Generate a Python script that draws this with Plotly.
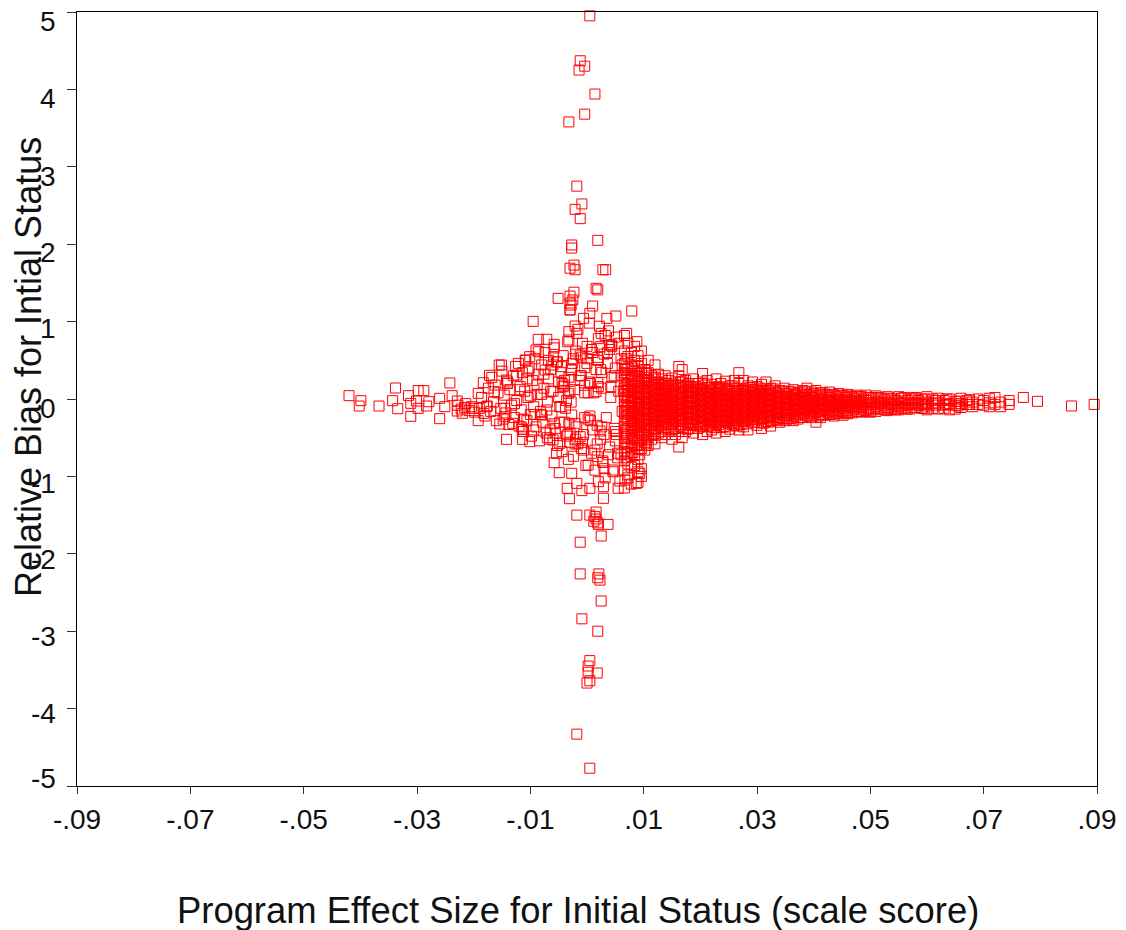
import plotly.graph_objects as go

# Isolated points along the vertical spike at x near 0
spike_x = [.0005,-.0012,-.0004,-.0014,.0014,-.0004,-.0032,-.0018,-.0009,-.0021,-.0012,.0019,-.0027,-.0027,-.0023,-.0030,-.0021,.0028,.0033,.0016,.0019,-.0023,-.0030,-.0051,-.0025,-.0030,-.0030,
           .0005,-.0018,.0005,-.0000,.0018,.0002,.0005,.0002,.0019,-.0009,.0025,.0023,.0019,.0021,-.0012,-.0012,.0037,.0025,.0016,.0019,.0016,.0005,.0014,-.0018,.0020,.0012]
spike_y = [4.95,4.37,4.30,4.25,3.94,3.68,3.58,2.75,2.52,2.45,2.33,2.05,1.99,1.95,1.73,1.69,1.67,1.67,1.67,1.43,1.41,1.38,1.33,1.30,1.28,1.24,1.15,
           -4.77,-4.33,-3.64,-3.67,-3.54,-3.53,-3.38,-3.45,-3.00,-2.84,-2.61,-2.34,-2.31,-2.26,-2.26,-1.85,-1.62,-1.77,-1.55,-1.60,-1.46,-1.50,-1.52,-1.50,-1.62,-1.58]

# Scattered points left of and around the central cross
left_x = [-.0420,-.0399,-.0402,-.0367,-.0343,-.0338,-.0334,-.0315,-.0311,-.0311,-.0298,-.0288,-.0298,-.0301,-.0283,-.0279,-.0260,-.0251,-.0260,-.0242,-.0238,-.0229,-.0229,-.0220,-.0216,-.0201,-.0192,-.0192,-.0183,-.0182,-.0172,-.0177,-.0164,-.0154,-.0155,-.0151,-.0142,-.0145,-.0145,-.0142,-.0131,-.0114,-.0114,-.0101,
          -.0095,-.0086,-.0071,-.0090,-.0086,-.0124,-.0121,-.0109,-.0101,-.0058,-.0059,-.0074,-.0045,-.0027,-.0004,-.0012,-.0032,-.0032,-.0021,-.0018,-.0006,.0005,.0010,-.0028,-.0030,.0035,.0051,.0079,.0025,.0023,.0043,.0070,.0088,.0019,.0026,-.0004,.0019,.0016,.0005,.0010,.0023,-.0012,-.0021,-.0027,-.0042,-.0033,-.0048,-.0071,-.0080,-.0065,-.0060,-.0048,-.0021,-.0054,-.0058,-.0049,-.0027,-.0035,-.0018,-.0009,-.0031,.0029,.0005,.0020,.0029,.0055,.0087,.0093,.0002,-.0033,.0018,.0046,.0067,
          -.0228,-.0222,-.0214,-.0208,-.0204,-.0198,-.0190,-.0186,-.0180,-.0176,-.0174,-.0170,-.0168,-.0165,-.0162,-.0160,-.0157,-.0152,-.0150,-.0148,-.0146,-.0143,-.0140,-.0138,-.0136,-.0133,-.0130,-.0128,-.0126,-.0124,-.0120,-.0118,-.0116,-.0114,-.0112,-.0110,-.0108,-.0106,-.0104,-.0102,-.0100,-.0098,-.0096,-.0094,-.0092,-.0090,-.0088,-.0086,-.0084,-.0082,-.0080,-.0078,-.0076,-.0074,-.0072,-.0070,-.0068,-.0066,-.0064,-.0062,-.0060,-.0058,-.0056,-.0054,-.0052,-.0050,-.0048,-.0046,-.0044,-.0042,-.0040,-.0038,-.0036,-.0034,-.0032,-.0030,-.0028,-.0026,-.0024,-.0022,-.0020,-.0018,-.0016,-.0014,-.0012,-.0010,-.0008,-.0006,-.0004,-.0002,.0000,.0002,.0004,.0006,.0008,.0010,.0012,.0014,.0016,.0018,.0020,.0022,.0024,.0026,.0028,.0030,.0032,.0034,.0036,.0038,.0040,.0042,.0044,.0046,.0048,.0050,.0052,.0054,.0056,.0058,.0060,.0062,
          -.0118,-.0112,-.0106,-.0100,-.0094,-.0088,-.0082,-.0076,-.0070,-.0064,-.0058,-.0052,-.0046,-.0040,-.0034,-.0028,-.0022,-.0016,-.0010,-.0004,.0002,.0008,.0014,.0020,.0026,.0032,.0038,.0044,.0050,.0056,.0062,
          -.0140,-.0128,-.0116,-.0104,-.0092,-.0080,-.0068,-.0056,-.0044,-.0032,-.0020,-.0008,.0004,.0016,.0028,.0040,.0052,.0064,
          -.0036,-.0030,-.0024,-.0018,-.0012,-.0006,.0000,.0006,.0012,.0018,.0024,.0030,.0036,.0042,.0048,.0054,.0060,
          -.0060,-.0050,-.0040,-.0030,-.0020,-.0010,.0000,.0010,.0020,.0030,.0040,.0050,.0060]
left_y = [.043,-.022,-.091,-.091,-.022,.142,-.125,.043,-.056,-.224,.108,.108,-.121,-.026,-.091,-.035,.009,-.099,-.254,.207,.043,-.026,-.155,-.185,-.108,-.121,-.280,.073,.211,-.185,.306,-.099,.095,-.323,.439,.439,.245,-.228,-.121,-.521,-.314,-.392,-.521,-.551,
          1.003,.771,.771,.633,.611,.310,.461,.504,.547,.706,.547,.375,.418,.375,.405,.568,.762,.870,.943,.848,1.042,1.107,1.201,1.214,1.150,1.042,1.072,1.137,.848,.676,.698,.848,.741,.538,.344,.177,.211,.095,-.220,-.400,-.413,-.487,-.314,-.207,.159,.073,-.099,-.142,-.207,-.400,-.530,-.573,-.581,-.702,-.823,-.952,-.960,-1.154,-1.090,-1.184,-1.288,-1.283,-1.154,-1.068,-1.133,-1.154,-1.090,-.960,-.853,-.780,-.745,-.917,-1.047,
          -.08,-.13,-.06,-.15,-.10,-.17,-.12,.02,-.22,-.09,.14,-.16,.28,-.04,.18,-.28,.08,-.12,.36,-.26,.05,-.18,.22,-.33,.12,-.08,.30,-.24,.42,-.02,-.35,.16,-.14,.34,-.42,.10,.50,-.28,.02,.40,-.20,-.48,.24,-.10,.52,-.36,.06,.32,-.54,-.16,.44,-.30,.14,.60,-.44,-.04,.26,-.52,.38,-.22,.10,.66,-.38,.48,-.60,.02,-.30,.34,-.68,.56,.18,-.12,-.48,.74,.28,-.56,-.04,.46,-.74,.12,.62,-.36,.90,-.18,.30,-.64,.72,-.46,.08,-.86,.52,-.26,.98,.20,-.70,.60,-.06,-.92,.38,-.34,.78,.94,-.52,.14,-.82,.58,-1.02,-.24,.46,.88,-.62,.02,.68,-.94,.30,-.42,.80,-.76,.10,-1.06,.52,-.16,
          .12,-.26,.26,.04,-.40,.18,-.20,.32,-.50,.10,-.32,.48,-.10,.24,-.46,.38,-.02,-.58,.54,-.24,.08,.64,-.66,.16,-.36,.82,-.72,.28,-.54,.72,.44,
          .20,-.06,-.36,.36,-.20,.06,.50,-.44,.20,-.32,.58,-.56,.22,-.14,-.80,.70,-.46,.10,
          -.02,-.44,.52,-.12,.24,-.66,.46,-.28,.08,-.58,.38,-.90,.60,.16,-.38,-.70,.30,
          .44,.22,-.30,.10,-.52,.30,.68,-.08,.50,-.46,.64,.40,-.72]

# Dense horizontal band: column x value and the y values read in that column
band_x = [.0066,.0072,.0078,.0084,.0090,.0096,.0102,.0108,.0114,.0120,.0126,.0132,.0138,.0144,.0150,.0156,.0162,.0168,.0174,.0180,
          .0188,.0196,.0204,.0212,.0220,.0228,.0236,.0244,.0252,.0260,.0268,.0276,.0284,.0292,.0300,.0308,.0316,.0324,.0332,.0340,
          .0348,.0356,.0364,.0372,.0380,.0388,.0396,.0404,.0412,.0420,.0428,.0436,.0444,.0452,.0460,.0468,.0476,.0484,.0492,.0500,
          .0510,.0520,.0530,.0540,.0550,.0560,.0570,.0580,.0590,.0600,.0610,.0620,.0630,.0640,.0650,.0660,.0670,.0680,.0690,.0700,.0710,.0720,.0730,.0745,.0770,.0795,.0855,.0895]
band_y = [
 [.82,.62,.46,.34,.24,.14,.06,-.02,-.10,-.18,-.27,-.36,-.46,-.56,-.68,-.80,-.92,-1.15],
 [.72,.55,.40,.30,.20,.12,.04,-.04,-.12,-.20,-.28,-.38,-.48,-.58,-.70,-.84,-.98,-1.02],
 [.60,.44,.33,.24,.16,.09,.02,-.05,-.12,-.19,-.26,-.34,-.42,-.52,-.62,-.74,-.88,-1.10],
 [.68,.50,.36,.26,.17,.10,.03,-.04,-.11,-.18,-.25,-.33,-.41,-.50,-.60,-.72,-.86],
 [.56,.42,.30,.22,.14,.07,.00,-.07,-.14,-.21,-.28,-.36,-.44,-.54,-.64,-.78,-.94,-1.08],
 [.62,.46,.34,.24,.16,.09,.02,-.05,-.12,-.19,-.26,-.34,-.43,-.53,-.64,-.90,-1.00],
 [.38,.28,.20,.13,.06,-.01,-.08,-.15,-.22,-.29,-.37,-.46,-.56,-.66],
 [.50,.34,.24,.16,.09,.02,-.05,-.12,-.19,-.26,-.33,-.41,-.50,-.60],
 [.30,.22,.15,.08,.01,-.06,-.13,-.20,-.27,-.34,-.42,-.52],
 [.44,.28,.19,.12,.05,-.02,-.09,-.16,-.23,-.30,-.38,-.47,-.58],
 [.32,.21,.14,.07,.00,-.07,-.14,-.21,-.28,-.35,-.44],
 [.26,.18,.11,.04,-.03,-.10,-.17,-.24,-.31,-.39,-.50],
 [.30,.20,.13,.06,-.01,-.08,-.15,-.22,-.29,-.37,-.46],
 [.24,.16,.09,.02,-.05,-.12,-.19,-.26,-.33,-.42],
 [.27,.17,.10,.03,-.04,-.11,-.18,-.25,-.32,-.40,-.52],
 [.22,.14,.07,.00,-.07,-.14,-.21,-.28,-.36,-.46],
 [.42,.30,.18,.10,.03,-.04,-.11,-.18,-.25,-.33,-.42,-.62],
 [.38,.22,.13,.06,-.01,-.08,-.15,-.22,-.29,-.38,-.50],
 [.24,.16,.09,.02,-.05,-.12,-.19,-.26,-.33,-.42],
 [.20,.12,.05,-.02,-.09,-.16,-.23,-.30,-.38],
 [.26,.16,.09,.02,-.05,-.12,-.19,-.26,-.33,-.44],
 [.20,.12,.05,-.02,-.09,-.16,-.23,-.30,-.38],
 [.33,.22,.13,.06,-.01,-.08,-.15,-.22,-.29,-.36,-.46],
 [.24,.15,.08,.01,-.06,-.13,-.20,-.27,-.35,-.42],
 [.19,.11,.04,-.03,-.10,-.17,-.24,-.31,-.40],
 [.26,.15,.08,.01,-.06,-.13,-.20,-.27,-.34,-.44],
 [.20,.12,.05,-.02,-.09,-.16,-.23,-.30,-.37],
 [.23,.14,.07,.00,-.07,-.14,-.21,-.28,-.36,-.42],
 [.17,.10,.03,-.04,-.11,-.18,-.25,-.32,-.39],
 [.24,.14,.07,.00,-.07,-.14,-.21,-.28,-.34],
 [.34,.20,.11,.04,-.03,-.10,-.17,-.24,-.31,-.40],
 [.24,.13,.06,-.01,-.08,-.15,-.22,-.29,-.36],
 [.17,.10,.03,-.04,-.11,-.18,-.25,-.32,-.40],
 [.22,.12,.05,-.02,-.09,-.16,-.23,-.30],
 [.16,.09,.02,-.05,-.12,-.19,-.26,-.34],
 [.19,.11,.04,-.03,-.10,-.17,-.24,-.31,-.38],
 [.22,.13,.06,-.01,-.08,-.15,-.22,-.29],
 [.14,.07,.00,-.07,-.14,-.21,-.28,-.35],
 [.17,.09,.02,-.05,-.12,-.19,-.26],
 [.11,.04,-.03,-.10,-.17,-.24,-.30],
 [.14,.07,.00,-.07,-.14,-.21,-.28],
 [.10,.03,-.04,-.11,-.18,-.25],
 [.12,.05,-.02,-.09,-.16,-.23,-.28],
 [.08,.01,-.06,-.13,-.20,-.26],
 [.11,.04,-.03,-.10,-.17,-.24],
 [.14,.06,-.01,-.08,-.15,-.22],
 [.09,.02,-.05,-.12,-.19,-.24],
 [.11,.04,-.03,-.10,-.17,-.30],
 [.08,.01,-.06,-.13,-.20,-.24],
 [.06,-.01,-.08,-.15,-.21],
 [.09,.02,-.05,-.12,-.19],
 [.05,-.02,-.09,-.16,-.22],
 [.07,.00,-.07,-.14,-.19],
 [.04,-.03,-.10,-.17,-.21],
 [.06,-.01,-.08,-.15,-.19],
 [.03,-.04,-.11,-.18],
 [.05,-.02,-.09,-.16],
 [.03,-.04,-.11,-.17],
 [.05,-.02,-.09,-.15],
 [.02,-.05,-.12,-.17],
 [.04,-.03,-.10,-.16],
 [.01,-.06,-.13],
 [.03,-.04,-.11,-.15],
 [.00,-.07,-.13],
 [.03,-.04,-.10,-.14],
 [.02,-.05,-.12],
 [.00,-.07,-.13],
 [.02,-.05,-.11],
 [.00,-.06,-.12],
 [.03,-.04,-.09,-.14],
 [.00,-.06,-.12],
 [.01,-.05,-.13],
 [-.02,-.08,-.12],
 [.00,-.06,-.14],
 [-.03,-.08,-.13],
 [.01,-.06,-.11],
 [-.02,-.07],
 [-.04,-.10],
 [.00,-.07],
 [-.02,-.08],
 [.01,-.05,-.10],
 [.02,-.07],
 [-.04,-.10],
 [-.02,-.07],
 [.02],
 [-.03],
 [-.09],
 [-.07],
]

# Second reading of the dense band, between the columns and rows above
fill_x = [.0069,.0081,.0093,.0105,.0117,.0129,.0141,.0153,.0165,.0177,.0184,.0192,.0200,.0208,.0216,.0224,.0232,.0240,.0248,.0256,
          .0264,.0272,.0280,.0288,.0296,.0304,.0312,.0320,.0328,.0336,.0344,.0352,.0360,.0368,.0376,.0384,.0392,.0400,.0408,.0416,
          .0424,.0432,.0440,.0448,.0456,.0464,.0472,.0480,.0488,.0496,.0505,.0515,.0525,.0535,.0545,.0555,.0565,.0575,.0585,.0595,.0615,.0635,.0655,.0675]
fill_y = [
 [.52,.38,.28,.19,.10,.02,-.08,-.15,-.23,-.31,-.41,-.51,-.63,-.76],
 [.40,.29,.20,.13,.05,-.02,-.09,-.16,-.23,-.30,-.38,-.47,-.57,-.69],
 [.36,.26,.18,.10,.03,-.04,-.10,-.17,-.24,-.32,-.40,-.49,-.60,-.72],
 [.33,.25,.17,.10,.03,-.04,-.11,-.18,-.25,-.32,-.40,-.48,-.58],
 [.26,.18,.11,.04,-.03,-.10,-.17,-.24,-.31,-.38,-.46],
 [.22,.15,.08,.01,-.06,-.13,-.20,-.27,-.34,-.42],
 [.20,.13,.06,-.01,-.08,-.15,-.22,-.29,-.37],
 [.19,.12,.05,-.02,-.09,-.16,-.23,-.30,-.38],
 [.22,.15,.08,.01,-.06,-.13,-.20,-.27,-.35],
 [.18,.11,.04,-.03,-.10,-.17,-.24,-.31,-.39],
 [.15,.08,.01,-.06,-.13,-.20,-.27,-.34],
 [.16,.09,.02,-.05,-.12,-.19,-.26,-.34],
 [.13,.06,-.01,-.08,-.15,-.22,-.29,-.36],
 [.18,.10,.03,-.04,-.11,-.18,-.25,-.32],
 [.15,.08,.01,-.06,-.13,-.20,-.27,-.35],
 [.13,.06,-.01,-.08,-.15,-.22,-.29,-.37],
 [.16,.09,.02,-.05,-.12,-.19,-.26,-.33],
 [.14,.07,.00,-.07,-.14,-.21,-.28,-.36],
 [.12,.05,-.02,-.09,-.16,-.23,-.30],
 [.17,.10,.03,-.04,-.11,-.18,-.25,-.32],
 [.14,.07,.00,-.07,-.14,-.21,-.28,-.35],
 [.10,.03,-.04,-.11,-.18,-.25,-.33],
 [.13,.06,-.01,-.08,-.15,-.22,-.28],
 [.15,.08,.01,-.06,-.13,-.20,-.27],
 [.12,.05,-.02,-.09,-.16,-.23,-.30],
 [.14,.07,.00,-.07,-.14,-.21,-.27],
 [.10,.03,-.04,-.11,-.18,-.25,-.31],
 [.11,.04,-.03,-.10,-.17,-.24,-.30],
 [.13,.05,-.02,-.09,-.16,-.23,-.28],
 [.08,.01,-.06,-.13,-.20,-.27],
 [.10,.03,-.04,-.11,-.18,-.25],
 [.07,.00,-.07,-.14,-.21,-.27],
 [.09,.02,-.05,-.12,-.19,-.25],
 [.06,-.01,-.08,-.15,-.22],
 [.08,.01,-.06,-.13,-.20,-.24],
 [.10,.02,-.05,-.12,-.19],
 [.05,-.02,-.09,-.16,-.22],
 [.07,.00,-.07,-.14,-.21],
 [.05,-.02,-.09,-.16,-.22],
 [.08,.00,-.07,-.14,-.20],
 [.04,-.03,-.10,-.17],
 [.06,-.01,-.08,-.15,-.20],
 [.03,-.04,-.11,-.18],
 [.05,-.02,-.09,-.16],
 [.02,-.05,-.12,-.18],
 [.04,-.03,-.10,-.17],
 [.01,-.06,-.13],
 [.03,-.04,-.11,-.16],
 [.00,-.07,-.14],
 [.02,-.05,-.12,-.16],
 [.00,-.07,-.14],
 [.02,-.05,-.12],
 [-.01,-.08,-.14],
 [.01,-.06,-.13],
 [-.02,-.09,-.14],
 [.01,-.06,-.12],
 [-.02,-.08,-.13],
 [.01,-.06,-.11],
 [-.02,-.08],
 [.00,-.07,-.12],
 [-.02,-.08],
 [.00,-.07],
 [-.03,-.09],
 [-.01,-.07],
]

x_ticks = [-.09,-.07,-.05,-.03,-.01,.01,.03,.05,.07,.09]
x_labels = ["-.09","-.07","-.05","-.03","-.01",".01",".03",".05",".07",".09"]
y_ticks = [5,4,3,2,1,0,-1,-2,-3,-4,-5]
y_labels = ["5","4","3","2","1","0","-1","-2","-3","-4","-5"]
y_label_drop = [9,9,10,8,7,9,7,6,5,5,-8]   # the original labels do not sit level with their ticks

xs = []
ys = []
for px, py in zip(list(spike_x) + list(left_x), list(spike_y) + list(left_y)):
    # the reference has a clear pocket just right of x = 0 near y = 0
    if -.0024 < px < .0040 and -.19 < py < .04:
        continue
    xs.append(px)
    ys.append(py)
for cols_x, cols_y in ((band_x, band_y), (fill_x, fill_y)):
    for bx, col in zip(cols_x, cols_y):
        for v in col:
            xs.append(bx)
            ys.append(v)

FONT = "Liberation Sans, Arial, sans-serif"
TEXT = "#111111"
fig = go.Figure(go.Scatter(
    x=xs, y=ys, mode="markers", cliponaxis=False,
    marker=dict(symbol="square-open", size=10, color="#ff0000", line=dict(width=1, color="#ff0000")),
    hoverinfo="skip",
))
fig.update_layout(
    width=1126, height=930, autosize=False,
    margin=dict(l=77, r=29, t=12, b=144, pad=0),
    paper_bgcolor="white", plot_bgcolor="white", showlegend=False,
    font=dict(family=FONT, color=TEXT),
)
fig.update_xaxes(
    range=[-.09,.09], tickvals=x_ticks, ticktext=x_labels, showgrid=False, zeroline=False,
    showline=True, mirror=True, linecolor="black", linewidth=1,
    ticks="outside", ticklen=7, tickcolor="#333333", tickwidth=1, tickfont=dict(size=28),
    ticklabelstandoff=1, automargin=False,
)
fig.update_yaxes(
    range=[-5,5], tickvals=y_ticks, showticklabels=False, showgrid=False, zeroline=False,
    showline=True, mirror=True, linecolor="black", linewidth=1,
    ticks="outside", ticklen=9, tickcolor="#333333", tickwidth=1,
    automargin=False,
)
for value, label, drop in zip(y_ticks, y_labels, y_label_drop):
    fig.add_annotation(xref="paper", yref="y", x=0, y=value, text=label, showarrow=False,
                       xanchor="right", yanchor="middle", xshift=-20, yshift=-drop,
                       font=dict(size=28, color=TEXT), borderpad=0)
fig.add_annotation(xref="paper", yref="paper", x=0.4912, y=0, yshift=-124,
                   text="Program Effect Size for Initial Status (scale score)", showarrow=False,
                   xanchor="center", yanchor="middle", font=dict(size=36.4, color=TEXT))
fig.add_annotation(xref="paper", yref="paper", x=0, xshift=-49, y=0.5413,
                   text="Relative Bias for Intial Status", showarrow=False, textangle=-90,
                   xanchor="center", yanchor="middle", font=dict(size=36, color=TEXT))
fig.write_html("out.html", config={"displayModeBar": False},
               post_script="document.body.style.margin='0';document.body.style.overflow='hidden';")
